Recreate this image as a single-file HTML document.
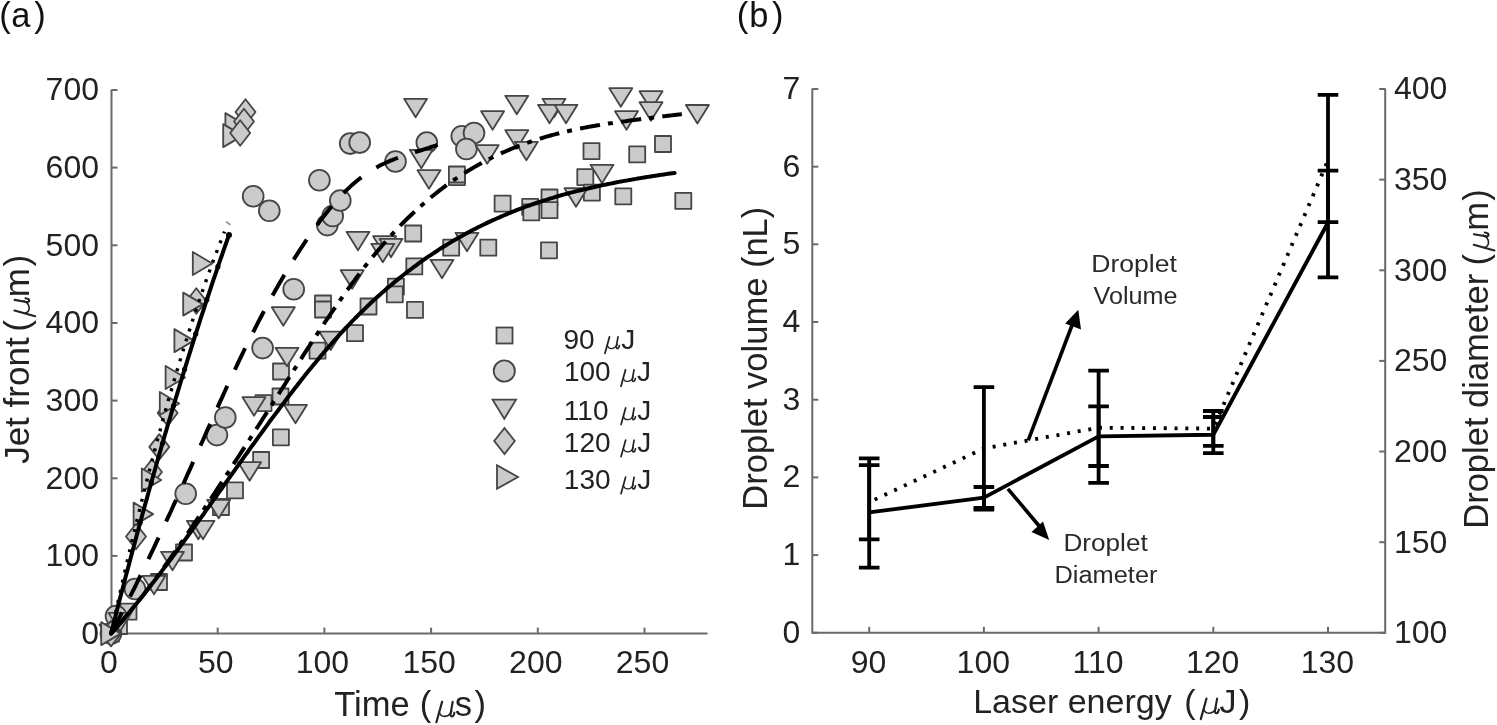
<!DOCTYPE html>
<html><head><meta charset="utf-8"><style>
html,body{margin:0;padding:0;background:#fff;width:1497px;height:725px;overflow:hidden}
svg{display:block;font-family:"Liberation Sans",sans-serif;filter:blur(0.4px)}
</style></head><body>
<svg width="1497" height="725" viewBox="0 0 1497 725">
<rect width="1497" height="725" fill="#fff"/>
<g transform="translate(0 27.2)" fill="#111"><text x="-0.74" y="0" font-size="34.50">(</text><text x="11.33" y="0" font-size="34.50">a</text><text x="34.30" y="0" font-size="34.50">)</text></g>
<g transform="translate(0 26.9)" fill="#111"><text x="736.86" y="0" font-size="34.50">(</text><text x="749.18" y="0" font-size="34.50">b</text><text x="771.90" y="0" font-size="34.50">)</text></g>
<g stroke="#6a6a6a" stroke-width="2" fill="none">
<path d="M111.5 89.5 V634.5 M110.5 633.6 H707.6"/>
<path d="M111.5 633.6 H117.5"/>
<path d="M111.5 555.9 H117.5"/>
<path d="M111.5 478.3 H117.5"/>
<path d="M111.5 400.6 H117.5"/>
<path d="M111.5 323.0 H117.5"/>
<path d="M111.5 245.3 H117.5"/>
<path d="M111.5 167.6 H117.5"/>
<path d="M111.5 90.0 H117.5"/>
<path d="M217.7 633.6 V627.6"/>
<path d="M324.4 633.6 V627.6"/>
<path d="M431.1 633.6 V627.6"/>
<path d="M537.8 633.6 V627.6"/>
<path d="M644.5 633.6 V627.6"/>
</g>
<g font-size="32" fill="#222">
<text x="99" y="644.0" text-anchor="end">0</text>
<text x="99" y="566.3" text-anchor="end">100</text>
<text x="99" y="488.7" text-anchor="end">200</text>
<text x="99" y="411.0" text-anchor="end">300</text>
<text x="99" y="333.4" text-anchor="end">400</text>
<text x="99" y="255.7" text-anchor="end">500</text>
<text x="99" y="178.0" text-anchor="end">600</text>
<text x="99" y="100.4" text-anchor="end">700</text>
<text x="109.0" y="672.5" text-anchor="middle">0</text>
<text x="215.7" y="672.5" text-anchor="middle">50</text>
<text x="322.4" y="672.5" text-anchor="middle">100</text>
<text x="429.1" y="672.5" text-anchor="middle">150</text>
<text x="535.8" y="672.5" text-anchor="middle">200</text>
<text x="642.5" y="672.5" text-anchor="middle">250</text>
</g>
<g transform="translate(0 716.3)" fill="#222"><text x="334.23" y="0" font-size="34.50">Time</text><text x="419.66" y="0" font-size="34.50">(</text><g transform="translate(434.80 0) scale(1.000)" fill="none" stroke="#222" stroke-linecap="round"><path d="M1.6 6.0 L7.3 -14.6" stroke-width="2.2"/><path d="M4.5 -4.2 C5.3 -1.2 7.6 0.2 10.0 0.1 C13.2 -0.1 15.6 -2.2 16.9 -5.2" stroke-width="1.6"/><path d="M17.9 -14.5 L15.8 -2.8 C15.5 -0.6 16.4 0.3 17.5 0.1 C18.6 -0.1 19.3 -1.4 19.6 -3.6" stroke-width="2.1"/></g><text x="454.64" y="0" font-size="34.50">s</text><text x="474.40" y="0" font-size="34.50">)</text></g>
<g transform="translate(29.1 463.3) rotate(-90)" fill="#222"><text x="-0.55" y="0" font-size="35.00">Jet front</text><text x="131.53" y="0" font-size="35.00">(</text><g transform="translate(145.50 0) scale(1.000)" fill="none" stroke="#222" stroke-linecap="round"><path d="M1.6 6.0 L7.3 -14.6" stroke-width="2.2"/><path d="M4.5 -4.2 C5.3 -1.2 7.6 0.2 10.0 0.1 C13.2 -0.1 15.6 -2.2 16.9 -5.2" stroke-width="1.6"/><path d="M17.9 -14.5 L15.8 -2.8 C15.5 -0.6 16.4 0.3 17.5 0.1 C18.6 -0.1 19.3 -1.4 19.6 -3.6" stroke-width="2.1"/></g><text x="166.18" y="0" font-size="35.00">m</text><text x="196.89" y="0" font-size="35.00">)</text></g>
<g fill="#cbcbcb" stroke="#454545" stroke-width="1.8" stroke-linejoin="round">
<rect x="103.0" y="625.6" width="16.0" height="16.0"/>
<rect x="111.0" y="618.0" width="16.0" height="16.0"/>
<rect x="120.5" y="603.7" width="16.0" height="16.0"/>
<rect x="151.0" y="574.0" width="16.0" height="16.0"/>
<rect x="176.0" y="544.5" width="16.0" height="16.0"/>
<rect x="213.0" y="499.0" width="16.0" height="16.0"/>
<rect x="227.0" y="482.3" width="16.0" height="16.0"/>
<rect x="253.1" y="452.0" width="16.0" height="16.0"/>
<rect x="272.9" y="429.3" width="16.0" height="16.0"/>
<rect x="255.5" y="395.1" width="16.0" height="16.0"/>
<rect x="272.5" y="388.5" width="16.0" height="16.0"/>
<rect x="273.0" y="363.5" width="16.0" height="16.0"/>
<rect x="309.5" y="342.6" width="16.0" height="16.0"/>
<rect x="347.0" y="325.2" width="16.0" height="16.0"/>
<rect x="315.0" y="295.5" width="16.0" height="16.0"/>
<rect x="315.0" y="301.5" width="16.0" height="16.0"/>
<rect x="360.5" y="298.5" width="16.0" height="16.0"/>
<rect x="387.9" y="278.6" width="16.0" height="16.0"/>
<rect x="386.8" y="286.3" width="16.0" height="16.0"/>
<rect x="407.0" y="301.9" width="16.0" height="16.0"/>
<rect x="406.3" y="258.4" width="16.0" height="16.0"/>
<rect x="405.2" y="225.5" width="16.0" height="16.0"/>
<rect x="443.2" y="239.7" width="16.0" height="16.0"/>
<rect x="480.3" y="239.7" width="16.0" height="16.0"/>
<rect x="541.0" y="242.3" width="16.0" height="16.0"/>
<rect x="448.9" y="169.1" width="16.0" height="16.0"/>
<rect x="448.9" y="166.5" width="16.0" height="16.0"/>
<rect x="494.6" y="195.6" width="16.0" height="16.0"/>
<rect x="522.2" y="198.9" width="16.0" height="16.0"/>
<rect x="523.3" y="204.4" width="16.0" height="16.0"/>
<rect x="541.5" y="189.5" width="16.0" height="16.0"/>
<rect x="541.5" y="202.2" width="16.0" height="16.0"/>
<rect x="577.3" y="169.1" width="16.0" height="16.0"/>
<rect x="583.9" y="184.6" width="16.0" height="16.0"/>
<rect x="615.3" y="188.3" width="16.0" height="16.0"/>
<rect x="583.5" y="143.1" width="16.0" height="16.0"/>
<rect x="629.2" y="146.4" width="16.0" height="16.0"/>
<rect x="655.0" y="136.0" width="16.0" height="16.0"/>
<rect x="675.3" y="192.9" width="16.0" height="16.0"/>
<circle cx="111.0" cy="633.6" r="10.4"/>
<circle cx="116.0" cy="616.0" r="10.4"/>
<circle cx="135.0" cy="589.0" r="10.4"/>
<circle cx="185.7" cy="493.7" r="10.4"/>
<circle cx="216.9" cy="435.1" r="10.4"/>
<circle cx="225.3" cy="417.5" r="10.4"/>
<circle cx="262.6" cy="348.1" r="10.4"/>
<circle cx="293.7" cy="289.2" r="10.4"/>
<circle cx="269.3" cy="210.8" r="10.4"/>
<circle cx="253.2" cy="196.3" r="10.4"/>
<circle cx="319.4" cy="180.3" r="10.4"/>
<circle cx="327.3" cy="225.1" r="10.4"/>
<circle cx="332.7" cy="216.0" r="10.4"/>
<circle cx="340.3" cy="200.5" r="10.4"/>
<circle cx="350.2" cy="143.6" r="10.4"/>
<circle cx="359.7" cy="142.6" r="10.4"/>
<circle cx="395.5" cy="161.5" r="10.4"/>
<circle cx="426.8" cy="142.6" r="10.4"/>
<circle cx="461.8" cy="136.3" r="10.4"/>
<circle cx="474.0" cy="133.0" r="10.4"/>
<circle cx="466.4" cy="149.0" r="10.4"/>
<polygon points="99.5,624.4 122.5,624.4 111.0,642.9"/>
<polygon points="108.5,612.8 131.5,612.8 120.0,631.2"/>
<polygon points="142.5,575.8 165.5,575.8 154.0,594.2"/>
<polygon points="161.0,551.8 184.0,551.8 172.5,570.2"/>
<polygon points="186.8,520.8 209.8,520.8 198.3,539.2"/>
<polygon points="191.5,520.8 214.5,520.8 203.0,539.2"/>
<polygon points="207.2,499.8 230.2,499.8 218.7,518.2"/>
<polygon points="238.1,462.2 261.1,462.2 249.6,480.8"/>
<polygon points="242.5,397.2 265.5,397.2 254.0,415.8"/>
<polygon points="284.0,404.8 307.0,404.8 295.5,423.2"/>
<polygon points="275.5,347.8 298.5,347.8 287.0,366.2"/>
<polygon points="271.8,307.2 294.8,307.2 283.3,325.8"/>
<polygon points="319.2,331.6 342.2,331.6 330.7,350.1"/>
<polygon points="340.7,270.2 363.7,270.2 352.2,288.8"/>
<polygon points="346.5,231.8 369.5,231.8 358.0,250.2"/>
<polygon points="373.1,236.2 396.1,236.2 384.6,254.8"/>
<polygon points="379.5,238.8 402.5,238.8 391.0,257.2"/>
<polygon points="371.3,243.8 394.3,243.8 382.8,262.2"/>
<polygon points="430.5,259.8 453.5,259.8 442.0,278.2"/>
<polygon points="455.5,232.8 478.5,232.8 467.0,251.2"/>
<polygon points="404.1,98.8 427.1,98.8 415.6,117.2"/>
<polygon points="409.8,149.8 432.8,149.8 421.3,168.2"/>
<polygon points="417.5,170.2 440.5,170.2 429.0,188.8"/>
<polygon points="475.7,145.2 498.7,145.2 487.2,163.8"/>
<polygon points="481.1,111.2 504.1,111.2 492.6,129.8"/>
<polygon points="505.3,95.8 528.3,95.8 516.8,114.2"/>
<polygon points="505.3,130.2 528.3,130.2 516.8,148.8"/>
<polygon points="514.9,141.8 537.9,141.8 526.4,160.2"/>
<polygon points="542.5,98.8 565.5,98.8 554.0,117.2"/>
<polygon points="538.0,104.8 561.0,104.8 549.5,123.2"/>
<polygon points="554.5,104.8 577.5,104.8 566.0,123.2"/>
<polygon points="564.5,188.2 587.5,188.2 576.0,206.8"/>
<polygon points="590.5,164.8 613.5,164.8 602.0,183.2"/>
<polygon points="609.3,88.2 632.3,88.2 620.8,106.8"/>
<polygon points="639.5,91.2 662.5,91.2 651.0,109.8"/>
<polygon points="639.5,102.2 662.5,102.2 651.0,120.8"/>
<polygon points="615.0,111.2 638.0,111.2 626.5,129.8"/>
<polygon points="685.9,105.0 708.9,105.0 697.4,123.5"/>
<polygon points="111.0,620.9 121.0,633.6 111.0,646.4 101.0,633.6"/>
<polygon points="136.0,523.8 146.0,536.5 136.0,549.2 126.0,536.5"/>
<polygon points="152.0,459.2 162.0,472.0 152.0,484.8 142.0,472.0"/>
<polygon points="159.3,434.1 169.3,446.9 159.3,459.6 149.3,446.9"/>
<polygon points="167.6,400.2 177.6,413.0 167.6,425.8 157.6,413.0"/>
<polygon points="196.3,288.2 206.3,301.0 196.3,313.8 186.3,301.0"/>
<polygon points="101.2,622.1 120.8,633.6 101.2,645.1"/>
<polygon points="133.6,502.6 153.1,514.1 133.6,525.6"/>
<polygon points="141.8,468.5 161.2,480.0 141.8,491.5"/>
<polygon points="159.8,391.9 179.2,403.4 159.8,414.9"/>
<polygon points="165.6,366.0 185.1,377.5 165.6,389.0"/>
<polygon points="174.4,329.1 193.9,340.6 174.4,352.1"/>
<polygon points="183.2,292.6 202.8,304.1 183.2,315.6"/>
<polygon points="192.8,252.0 212.2,263.5 192.8,275.0"/>
<polygon points="225.4,113.1 244.9,124.6 225.4,136.1"/>
<polygon points="223.2,124.1 242.8,135.6 223.2,147.1"/>
<polygon points="245.5,99.2 255.5,112.0 245.5,124.8 235.5,112.0"/>
<polygon points="244.0,108.8 254.0,121.5 244.0,134.2 234.0,121.5"/>
<polygon points="240.2,120.2 250.2,133.0 240.2,145.8 230.2,133.0"/>
</g>
<g fill="none" stroke="#000" stroke-width="4.0">
<path d="M111.0 633.6 L113.1 623.8 L115.3 614.1 L117.4 604.5 L119.5 595.0 L121.7 585.6 L123.8 576.2 L125.9 567.0 L128.1 557.8 L130.2 548.7 L132.3 539.7 L134.5 530.8 L136.6 521.9 L138.7 513.2 L140.9 504.5 L143.0 495.9 L145.1 487.4 L147.3 479.0 L149.4 470.7 L151.5 462.4 L153.7 454.3 L155.8 446.2 L157.9 438.2 L160.1 430.3 L162.2 422.5 L164.3 414.8 L166.5 407.1 L168.6 399.5 L170.8 392.1 L172.9 384.7 L175.0 377.4 L177.2 370.1 L179.3 363.0 L181.4 356.0 L183.6 349.0 L185.7 342.1 L187.8 335.3 L190.0 328.6 L192.1 322.0 L194.2 315.4 L196.4 309.0 L198.5 302.6 L200.6 296.3 L202.8 290.1 L204.9 284.0 L207.0 278.0 L209.2 272.0 L211.3 266.1 L213.4 260.4 L215.6 254.7 L217.7 249.1 L219.8 243.5 L222.0 238.1 L224.1 232.7 L224.5 231.7" stroke-width="3.4" stroke-dasharray="3 7.4" stroke-dashoffset="-0.2"/>
<path d="M111.0 633.6 L113.1 625.2 L115.3 616.9 L117.4 608.6 L119.5 600.3 L121.7 592.1 L123.8 583.9 L125.9 575.8 L128.1 567.7 L130.2 559.7 L132.3 551.7 L134.5 543.7 L136.6 535.8 L138.7 527.9 L140.9 520.1 L143.0 512.3 L145.1 504.6 L147.3 496.9 L149.4 489.2 L151.5 481.6 L153.7 474.1 L155.8 466.5 L157.9 459.1 L160.1 451.6 L162.2 444.2 L164.3 436.9 L166.5 429.6 L168.6 422.3 L170.8 415.1 L172.9 407.9 L175.0 400.8 L177.2 393.7 L179.3 386.7 L181.4 379.7 L183.6 372.7 L185.7 365.8 L187.8 359.0 L190.0 352.1 L192.1 345.4 L194.2 338.6 L196.4 331.9 L198.5 325.3 L200.6 318.7 L202.8 312.1 L204.9 305.6 L207.0 299.1 L209.2 292.7 L211.3 286.3 L213.4 279.9 L215.6 273.6 L217.7 267.4 L219.8 261.2 L222.0 255.0 L224.1 248.8 L226.2 242.8 L228.4 236.7 L229.0 234.9" stroke-linecap="round"/>
<circle cx="229.0" cy="234.9" r="3.0" fill="#000" stroke="none"/>
<circle cx="217.9" cy="266.7" r="2.6" fill="#000" stroke="none"/>
<circle cx="206.8" cy="299.7" r="2.6" fill="#000" stroke="none"/>
<circle cx="195.7" cy="333.9" r="2.6" fill="#000" stroke="none"/>
<circle cx="184.6" cy="369.3" r="2.6" fill="#000" stroke="none"/>
<circle cx="173.5" cy="405.8" r="2.6" fill="#000" stroke="none"/>
<circle cx="162.4" cy="443.5" r="2.6" fill="#000" stroke="none"/>
<circle cx="151.3" cy="482.4" r="2.6" fill="#000" stroke="none"/>
<circle cx="140.2" cy="522.4" r="2.6" fill="#000" stroke="none"/>
<path d="M111.0 633.6 L113.1 629.6 L115.3 625.5 L117.4 621.5 L119.5 617.4 L121.7 613.2 L123.8 609.1 L125.9 604.9 L128.1 600.7 L130.2 596.4 L132.3 592.2 L134.5 587.9 L136.6 583.5 L138.7 579.2 L140.9 574.8 L143.0 570.4 L145.1 566.0 L147.3 561.6 L149.4 557.1 L151.5 552.6 L153.7 548.1 L155.8 543.6 L157.9 539.1 L160.1 534.5 L162.2 529.9 L164.3 525.3 L166.5 520.7 L168.6 516.1 L170.8 511.5 L172.9 506.8 L175.0 502.1 L177.2 497.5 L179.3 492.8 L181.4 488.1 L183.6 483.3 L185.7 478.6 L187.8 473.9 L190.0 469.1 L192.1 464.4 L194.2 459.6 L196.4 454.8 L198.5 450.0 L200.6 445.3 L202.8 440.5 L204.9 435.7 L207.0 430.9 L209.2 426.1 L211.3 421.4 L213.4 416.6 L215.6 411.9 L217.7 407.1 L219.8 402.4 L222.0 397.7 L224.1 393.0 L226.2 388.3 L228.4 383.7 L230.5 379.1 L232.6 374.5 L234.8 369.9 L236.9 365.4 L239.0 360.9 L241.2 356.4 L243.3 352.0 L245.4 347.6 L247.6 343.3 L249.7 339.0 L251.8 334.7 L254.0 330.5 L256.1 326.3 L258.2 322.1 L260.4 318.0 L262.5 314.0 L264.6 310.0 L266.8 306.0 L268.9 302.1 L271.0 298.2 L273.2 294.3 L275.3 290.5 L277.5 286.8 L279.6 283.1 L281.7 279.4 L283.9 275.8 L286.0 272.2 L288.1 268.6 L290.3 265.1 L292.4 261.7 L294.5 258.3 L296.7 254.9 L298.8 251.6 L300.9 248.3 L303.1 245.1 L305.2 241.9 L307.3 238.8 L309.5 235.7 L311.6 232.6 L313.7 229.6 L315.9 226.7 L318.0 223.8 L320.1 220.9 L322.3 218.1 L324.4 215.4 L326.5 212.7 L328.7 210.0 L330.8 207.5 L332.9 204.9 L335.1 202.5 L337.2 200.1 L339.3 197.7 L341.5 195.4 L343.6 193.2 L345.7 191.0 L347.9 188.9 L350.0 186.9 L352.1 184.9 L354.3 183.0 L356.4 181.2 L358.5 179.5 L360.7 177.8 L362.8 176.2 L364.9 174.6 L367.1 173.1 L369.2 171.7 L371.3 170.4 L373.5 169.1 L375.6 167.9 L377.8 166.7 L379.9 165.6 L382.0 164.5 L384.2 163.5 L386.3 162.5 L388.4 161.6 L390.6 160.7 L392.7 159.8 L394.8 159.0 L397.0 158.2 L399.1 157.4 L401.2 156.6 L403.4 155.9 L405.5 155.2 L407.6 154.5 L409.8 153.8 L411.9 153.1 L414.0 152.5 L416.2 151.8 L418.3 151.1 L420.4 150.5 L422.6 149.8 L424.7 149.1 L426.8 148.5 L429.0 147.8 L431.1 147.0 L433.2 146.3 L435.4 145.6 L437.5 144.8 L439.2 144.1" stroke-dasharray="23.8 17.85" stroke-dashoffset="0"/>
<path d="M111.0 633.6 L113.1 631.3 L115.3 628.9 L117.4 626.5 L119.5 624.1 L121.7 621.6 L123.8 619.1 L125.9 616.6 L128.1 614.0 L130.2 611.5 L132.3 608.8 L134.5 606.2 L136.6 603.5 L138.7 600.9 L140.9 598.1 L143.0 595.4 L145.1 592.6 L147.3 589.8 L149.4 587.0 L151.5 584.2 L153.7 581.3 L155.8 578.4 L157.9 575.5 L160.1 572.6 L162.2 569.7 L164.3 566.7 L166.5 563.7 L168.6 560.8 L170.8 557.7 L172.9 554.7 L175.0 551.7 L177.2 548.6 L179.3 545.5 L181.4 542.5 L183.6 539.4 L185.7 536.2 L187.8 533.1 L190.0 530.0 L192.1 526.8 L194.2 523.7 L196.4 520.5 L198.5 517.3 L200.6 514.1 L202.8 510.9 L204.9 507.7 L207.0 504.5 L209.2 501.3 L211.3 498.1 L213.4 494.8 L215.6 491.6 L217.7 488.3 L219.8 485.1 L222.0 481.8 L224.1 478.6 L226.2 475.3 L228.4 472.1 L230.5 468.8 L232.6 465.5 L234.8 462.2 L236.9 459.0 L239.0 455.7 L241.2 452.4 L243.3 449.1 L245.4 445.8 L247.6 442.5 L249.7 439.2 L251.8 435.9 L254.0 432.6 L256.1 429.3 L258.2 426.0 L260.4 422.7 L262.5 419.3 L264.6 416.0 L266.8 412.7 L268.9 409.3 L271.0 406.0 L273.2 402.6 L275.3 399.3 L277.5 395.9 L279.6 392.5 L281.7 389.2 L283.9 385.8 L286.0 382.5 L288.1 379.1 L290.3 375.8 L292.4 372.4 L294.5 369.1 L296.7 365.7 L298.8 362.4 L300.9 359.1 L303.1 355.7 L305.2 352.4 L307.3 349.1 L309.5 345.8 L311.6 342.6 L313.7 339.3 L315.9 336.0 L318.0 332.8 L320.1 329.6 L322.3 326.4 L324.4 323.2 L326.5 320.0 L328.7 316.8 L330.8 313.7 L332.9 310.6 L335.1 307.5 L337.2 304.4 L339.3 301.3 L341.5 298.3 L343.6 295.3 L345.7 292.3 L347.9 289.3 L350.0 286.4 L352.1 283.5 L354.3 280.6 L356.4 277.7 L358.5 274.9 L360.7 272.1 L362.8 269.3 L364.9 266.6 L367.1 263.8 L369.2 261.1 L371.3 258.5 L373.5 255.9 L375.6 253.3 L377.8 250.7 L379.9 248.2 L382.0 245.7 L384.2 243.2 L386.3 240.8 L388.4 238.4 L390.6 236.0 L392.7 233.7 L394.8 231.4 L397.0 229.1 L399.1 226.9 L401.2 224.7 L403.4 222.5 L405.5 220.4 L407.6 218.3 L409.8 216.2 L411.9 214.2 L414.0 212.2 L416.2 210.2 L418.3 208.3 L420.4 206.3 L422.6 204.5 L424.7 202.6 L426.8 200.8 L429.0 199.0 L431.1 197.2 L433.2 195.5 L435.4 193.8 L437.5 192.1 L439.6 190.4 L441.8 188.8 L443.9 187.2 L446.0 185.6 L448.2 184.0 L450.3 182.5 L452.4 181.0 L454.6 179.5 L456.7 178.1 L458.8 176.7 L461.0 175.3 L463.1 173.9 L465.2 172.6 L467.4 171.2 L469.5 169.9 L471.6 168.7 L473.8 167.4 L475.9 166.2 L478.0 165.0 L480.2 163.8 L482.3 162.6 L484.4 161.5 L486.6 160.4 L488.7 159.3 L490.9 158.2 L493.0 157.1 L495.1 156.1 L497.3 155.1 L499.4 154.1 L501.5 153.1 L503.7 152.2 L505.8 151.2 L507.9 150.3 L510.1 149.4 L512.2 148.5 L514.3 147.7 L516.5 146.8 L518.6 146.0 L520.7 145.2 L522.9 144.4 L525.0 143.6 L527.1 142.9 L529.3 142.1 L531.4 141.4 L533.5 140.7 L535.7 140.0 L537.8 139.3 L539.9 138.6 L542.1 138.0 L544.2 137.3 L546.3 136.7 L548.5 136.1 L550.6 135.5 L552.7 134.9 L554.9 134.4 L557.0 133.8 L559.1 133.3 L561.3 132.7 L563.4 132.2 L565.5 131.7 L567.7 131.2 L569.8 130.7 L571.9 130.3 L574.1 129.8 L576.2 129.3 L578.3 128.9 L580.5 128.5 L582.6 128.0 L584.7 127.6 L586.9 127.2 L589.0 126.8 L591.1 126.4 L593.3 126.1 L595.4 125.7 L597.6 125.3 L599.7 125.0 L601.8 124.6 L604.0 124.3 L606.1 123.9 L608.2 123.6 L610.4 123.3 L612.5 123.0 L614.6 122.6 L616.8 122.3 L618.9 122.0 L621.0 121.7 L623.2 121.4 L625.3 121.2 L627.4 120.9 L629.6 120.6 L631.7 120.3 L633.8 120.0 L636.0 119.8 L638.1 119.5 L640.2 119.2 L642.4 118.9 L644.5 118.7 L646.6 118.4 L648.8 118.2 L650.9 117.9 L653.0 117.6 L655.2 117.4 L657.3 117.1 L659.4 116.8 L661.6 116.6 L663.7 116.3 L665.8 116.1 L668.0 115.8 L670.1 115.5 L672.2 115.3 L674.4 115.0 L676.5 114.7 L678.6 114.4 L680.8 114.2 L681.8 114.0" stroke-dasharray="20.3 8 5 8.3" stroke-dashoffset="-1.4"/>
<path d="M111.0 633.6 L113.1 631.2 L115.3 628.8 L117.4 626.4 L119.5 623.9 L121.7 621.4 L123.8 618.9 L125.9 616.4 L128.1 613.8 L130.2 611.3 L132.3 608.7 L134.5 606.1 L136.6 603.4 L138.7 600.8 L140.9 598.1 L143.0 595.5 L145.1 592.8 L147.3 590.1 L149.4 587.3 L151.5 584.6 L153.7 581.8 L155.8 579.0 L157.9 576.3 L160.1 573.5 L162.2 570.6 L164.3 567.8 L166.5 565.0 L168.6 562.1 L170.8 559.2 L172.9 556.4 L175.0 553.5 L177.2 550.6 L179.3 547.7 L181.4 544.8 L183.6 541.8 L185.7 538.9 L187.8 536.0 L190.0 533.0 L192.1 530.0 L194.2 527.1 L196.4 524.1 L198.5 521.1 L200.6 518.2 L202.8 515.2 L204.9 512.2 L207.0 509.2 L209.2 506.2 L211.3 503.2 L213.4 500.2 L215.6 497.2 L217.7 494.2 L219.8 491.2 L222.0 488.2 L224.1 485.2 L226.2 482.1 L228.4 479.1 L230.5 476.1 L232.6 473.1 L234.8 470.1 L236.9 467.1 L239.0 464.1 L241.2 461.1 L243.3 458.1 L245.4 455.2 L247.6 452.2 L249.7 449.2 L251.8 446.2 L254.0 443.3 L256.1 440.3 L258.2 437.4 L260.4 434.4 L262.5 431.5 L264.6 428.6 L266.8 425.6 L268.9 422.7 L271.0 419.8 L273.2 416.9 L275.3 414.1 L277.5 411.2 L279.6 408.3 L281.7 405.5 L283.9 402.7 L286.0 399.8 L288.1 397.0 L290.3 394.2 L292.4 391.5 L294.5 388.7 L296.7 386.0 L298.8 383.2 L300.9 380.5 L303.1 377.8 L305.2 375.1 L307.3 372.5 L309.5 369.8 L311.6 367.2 L313.7 364.6 L315.9 362.0 L318.0 359.4 L320.1 356.9 L322.3 354.4 L324.4 351.8 L326.5 349.4 L328.7 346.9 L330.8 344.5 L332.9 342.0 L335.1 339.6 L337.2 337.3 L339.3 334.9 L341.5 332.6 L343.6 330.3 L345.7 328.0 L347.9 325.8 L350.0 323.5 L352.1 321.3 L354.3 319.2 L356.4 317.0 L358.5 314.9 L360.7 312.7 L362.8 310.7 L364.9 308.6 L367.1 306.5 L369.2 304.5 L371.3 302.5 L373.5 300.5 L375.6 298.6 L377.8 296.6 L379.9 294.7 L382.0 292.8 L384.2 291.0 L386.3 289.1 L388.4 287.3 L390.6 285.5 L392.7 283.7 L394.8 281.9 L397.0 280.1 L399.1 278.4 L401.2 276.7 L403.4 275.0 L405.5 273.3 L407.6 271.7 L409.8 270.1 L411.9 268.5 L414.0 266.9 L416.2 265.3 L418.3 263.7 L420.4 262.2 L422.6 260.7 L424.7 259.2 L426.8 257.7 L429.0 256.2 L431.1 254.8 L433.2 253.4 L435.4 252.0 L437.5 250.6 L439.6 249.2 L441.8 247.8 L443.9 246.5 L446.0 245.2 L448.2 243.9 L450.3 242.6 L452.4 241.3 L454.6 240.1 L456.7 238.8 L458.8 237.6 L461.0 236.4 L463.1 235.2 L465.2 234.0 L467.4 232.9 L469.5 231.7 L471.6 230.6 L473.8 229.5 L475.9 228.4 L478.0 227.3 L480.2 226.3 L482.3 225.2 L484.4 224.2 L486.6 223.1 L488.7 222.1 L490.9 221.1 L493.0 220.2 L495.1 219.2 L497.3 218.2 L499.4 217.3 L501.5 216.4 L503.7 215.5 L505.8 214.6 L507.9 213.7 L510.1 212.8 L512.2 211.9 L514.3 211.1 L516.5 210.2 L518.6 209.4 L520.7 208.6 L522.9 207.8 L525.0 207.0 L527.1 206.2 L529.3 205.5 L531.4 204.7 L533.5 204.0 L535.7 203.2 L537.8 202.5 L539.9 201.8 L542.1 201.1 L544.2 200.4 L546.3 199.8 L548.5 199.1 L550.6 198.4 L552.7 197.8 L554.9 197.1 L557.0 196.5 L559.1 195.9 L561.3 195.3 L563.4 194.7 L565.5 194.1 L567.7 193.5 L569.8 192.9 L571.9 192.4 L574.1 191.8 L576.2 191.3 L578.3 190.7 L580.5 190.2 L582.6 189.7 L584.7 189.2 L586.9 188.7 L589.0 188.2 L591.1 187.7 L593.3 187.2 L595.4 186.7 L597.6 186.3 L599.7 185.8 L601.8 185.3 L604.0 184.9 L606.1 184.5 L608.2 184.0 L610.4 183.6 L612.5 183.2 L614.6 182.7 L616.8 182.3 L618.9 181.9 L621.0 181.5 L623.2 181.1 L625.3 180.7 L627.4 180.4 L629.6 180.0 L631.7 179.6 L633.8 179.2 L636.0 178.9 L638.1 178.5 L640.2 178.1 L642.4 177.8 L644.5 177.4 L646.6 177.1 L648.8 176.8 L650.9 176.4 L653.0 176.1 L655.2 175.8 L657.3 175.4 L659.4 175.1 L661.6 174.8 L663.7 174.5 L665.8 174.1 L668.0 173.8 L670.1 173.5 L672.2 173.2 L674.4 172.9 L674.6 172.9" stroke-linecap="round"/>
</g>
<path d="M226.6 222.1 L229.9 224.5" stroke="#9a9a9a" stroke-width="1.8" stroke-linecap="round" fill="none"/>
<g fill="#cbcbcb" stroke="#454545" stroke-width="1.8">
<rect x="496.5" y="327.5" width="16.0" height="16.0"/>
<circle cx="504.3" cy="371.0" r="10.6"/>
<polygon points="492.6,399.7 516.0,399.7 504.3,418.7"/>
<polygon points="504.5,428.0 514.8,441.0 504.5,454.0 494.2,441.0"/>
<polygon points="497.0,465.2 518.0,477.0 497.0,488.8"/>
</g>
<g transform="translate(0 348.5)" fill="#222"><text x="563.39" y="0" font-size="28.00">90</text><g transform="translate(603.70 0) scale(0.799)" fill="none" stroke="#222" stroke-linecap="round"><path d="M1.6 6.0 L7.3 -14.6" stroke-width="2.2"/><path d="M4.5 -4.2 C5.3 -1.2 7.6 0.2 10.0 0.1 C13.2 -0.1 15.6 -2.2 16.9 -5.2" stroke-width="1.6"/><path d="M17.9 -14.5 L15.8 -2.8 C15.5 -0.6 16.4 0.3 17.5 0.1 C18.6 -0.1 19.3 -1.4 19.6 -3.6" stroke-width="2.1"/></g><text x="621.16" y="0" font-size="28.00">J</text></g>
<g transform="translate(0 381.4)" fill="#222"><text x="563.97" y="0" font-size="28.00">100</text><g transform="translate(619.70 0) scale(0.799)" fill="none" stroke="#222" stroke-linecap="round"><path d="M1.6 6.0 L7.3 -14.6" stroke-width="2.2"/><path d="M4.5 -4.2 C5.3 -1.2 7.6 0.2 10.0 0.1 C13.2 -0.1 15.6 -2.2 16.9 -5.2" stroke-width="1.6"/><path d="M17.9 -14.5 L15.8 -2.8 C15.5 -0.6 16.4 0.3 17.5 0.1 C18.6 -0.1 19.3 -1.4 19.6 -3.6" stroke-width="2.1"/></g><text x="637.06" y="0" font-size="28.00">J</text></g>
<g transform="translate(0 419.6)" fill="#222"><text x="563.87" y="0" font-size="28.00">110</text><g transform="translate(619.80 0) scale(0.799)" fill="none" stroke="#222" stroke-linecap="round"><path d="M1.6 6.0 L7.3 -14.6" stroke-width="2.2"/><path d="M4.5 -4.2 C5.3 -1.2 7.6 0.2 10.0 0.1 C13.2 -0.1 15.6 -2.2 16.9 -5.2" stroke-width="1.6"/><path d="M17.9 -14.5 L15.8 -2.8 C15.5 -0.6 16.4 0.3 17.5 0.1 C18.6 -0.1 19.3 -1.4 19.6 -3.6" stroke-width="2.1"/></g><text x="637.36" y="0" font-size="28.00">J</text></g>
<g transform="translate(0 451.8)" fill="#222"><text x="563.87" y="0" font-size="28.00">120</text><g transform="translate(619.80 0) scale(0.799)" fill="none" stroke="#222" stroke-linecap="round"><path d="M1.6 6.0 L7.3 -14.6" stroke-width="2.2"/><path d="M4.5 -4.2 C5.3 -1.2 7.6 0.2 10.0 0.1 C13.2 -0.1 15.6 -2.2 16.9 -5.2" stroke-width="1.6"/><path d="M17.9 -14.5 L15.8 -2.8 C15.5 -0.6 16.4 0.3 17.5 0.1 C18.6 -0.1 19.3 -1.4 19.6 -3.6" stroke-width="2.1"/></g><text x="637.36" y="0" font-size="28.00">J</text></g>
<g transform="translate(0 488.8)" fill="#222"><text x="563.87" y="0" font-size="28.00">130</text><g transform="translate(619.80 0) scale(0.799)" fill="none" stroke="#222" stroke-linecap="round"><path d="M1.6 6.0 L7.3 -14.6" stroke-width="2.2"/><path d="M4.5 -4.2 C5.3 -1.2 7.6 0.2 10.0 0.1 C13.2 -0.1 15.6 -2.2 16.9 -5.2" stroke-width="1.6"/><path d="M17.9 -14.5 L15.8 -2.8 C15.5 -0.6 16.4 0.3 17.5 0.1 C18.6 -0.1 19.3 -1.4 19.6 -3.6" stroke-width="2.1"/></g><text x="637.36" y="0" font-size="28.00">J</text></g>
<g stroke="#6a6a6a" stroke-width="2" fill="none">
<path d="M812.3 88.5 V633.8 M811.3 632.8 H1386.2 M1385.2 633.8 V88.5"/>
<path d="M812.3 632.8 H818.3"/>
<path d="M812.3 555.1 H818.3"/>
<path d="M812.3 477.4 H818.3"/>
<path d="M812.3 399.7 H818.3"/>
<path d="M812.3 322.0 H818.3"/>
<path d="M812.3 244.3 H818.3"/>
<path d="M812.3 166.7 H818.3"/>
<path d="M812.3 89.0 H818.3"/>
<path d="M869.2 632.8 V626.8"/>
<path d="M983.9 632.8 V626.8"/>
<path d="M1098.6 632.8 V626.8"/>
<path d="M1213.3 632.8 V626.8"/>
<path d="M1328.0 632.8 V626.8"/>
<path d="M1385.2 632.8 H1379.2"/>
<path d="M1385.2 542.2 H1379.2"/>
<path d="M1385.2 451.5 H1379.2"/>
<path d="M1385.2 360.9 H1379.2"/>
<path d="M1385.2 270.3 H1379.2"/>
<path d="M1385.2 179.6 H1379.2"/>
<path d="M1385.2 89.0 H1379.2"/>
</g>
<g font-size="32" fill="#222">
<text x="800.3" y="642.8" text-anchor="end">0</text>
<text x="800.3" y="565.1" text-anchor="end">1</text>
<text x="800.3" y="487.4" text-anchor="end">2</text>
<text x="800.3" y="409.7" text-anchor="end">3</text>
<text x="800.3" y="332.0" text-anchor="end">4</text>
<text x="800.3" y="254.3" text-anchor="end">5</text>
<text x="800.3" y="176.7" text-anchor="end">6</text>
<text x="800.3" y="99.0" text-anchor="end">7</text>
<text x="868.6" y="672.8" text-anchor="middle">90</text>
<text x="983.3" y="672.8" text-anchor="middle">100</text>
<text x="1098.0" y="672.8" text-anchor="middle">110</text>
<text x="1212.7" y="672.8" text-anchor="middle">120</text>
<text x="1327.4" y="672.8" text-anchor="middle">130</text>
<text x="1394" y="643.2">100</text>
<text x="1394" y="552.6">150</text>
<text x="1394" y="461.9">200</text>
<text x="1394" y="371.3">250</text>
<text x="1394" y="280.7">300</text>
<text x="1394" y="190.0">350</text>
<text x="1394" y="99.4">400</text>
</g>
<g transform="translate(0 713.1)" fill="#222"><text x="973.21" y="0" font-size="34.00">Laser energy</text><text x="1184.29" y="0" font-size="34.00">(</text><g transform="translate(1199.20 0) scale(1.000)" fill="none" stroke="#222" stroke-linecap="round"><path d="M1.6 6.0 L7.3 -14.6" stroke-width="2.2"/><path d="M4.5 -4.2 C5.3 -1.2 7.6 0.2 10.0 0.1 C13.2 -0.1 15.6 -2.2 16.9 -5.2" stroke-width="1.6"/><path d="M17.9 -14.5 L15.8 -2.8 C15.5 -0.6 16.4 0.3 17.5 0.1 C18.6 -0.1 19.3 -1.4 19.6 -3.6" stroke-width="2.1"/></g><text x="1219.47" y="0" font-size="34.00">J</text><text x="1239.00" y="0" font-size="34.00">)</text></g>
<text transform="translate(767.3 509.7) rotate(-90)" font-size="34.5" fill="#222">Droplet volume (nL)</text>
<g transform="translate(1488.4 525.9) rotate(-90)" fill="#222"><text x="-2.83" y="0" font-size="34.50">Droplet diameter</text><text x="260.46" y="0" font-size="34.50">(</text><g transform="translate(273.80 0) scale(1.000)" fill="none" stroke="#222" stroke-linecap="round"><path d="M1.6 6.0 L7.3 -14.6" stroke-width="2.2"/><path d="M4.5 -4.2 C5.3 -1.2 7.6 0.2 10.0 0.1 C13.2 -0.1 15.6 -2.2 16.9 -5.2" stroke-width="1.6"/><path d="M17.9 -14.5 L15.8 -2.8 C15.5 -0.6 16.4 0.3 17.5 0.1 C18.6 -0.1 19.3 -1.4 19.6 -3.6" stroke-width="2.1"/></g><text x="295.11" y="0" font-size="34.50">m</text><text x="325.20" y="0" font-size="34.50">)</text></g>
<g fill="none" stroke="#000">
<polyline points="869.2,512.4 983.9,497.6 1098.6,436.4 1213.3,434.7 1328.0,222.5" stroke-width="3.9" stroke-linejoin="round"/>
<polyline points="869.2,502.2 983.9,448.4 1098.6,427.7 1213.3,428.6 1328.0,160.5" stroke-width="3.8" stroke-dasharray="3 7.8" stroke-dashoffset="4.8"/>
<path d="M869.2 458.3 V567.7 M858.9 458.3 H879.5 M858.9 567.7 H879.5" stroke-width="3.8"/>
<path d="M869.2 465.1 V539.4 M858.9 465.1 H879.5 M858.9 539.4 H879.5" stroke-width="3.8"/>
<path d="M983.9 387.2 V509.5 M973.6 387.2 H994.2 M973.6 509.5 H994.2" stroke-width="3.8"/>
<path d="M983.9 487.0 V508.0 M973.6 487.0 H994.2 M973.6 508.0 H994.2" stroke-width="3.8"/>
<path d="M1098.6 370.6 V482.8 M1088.3 370.6 H1108.9 M1088.3 482.8 H1108.9" stroke-width="3.8"/>
<path d="M1098.6 406.4 V466.0 M1088.3 406.4 H1108.9 M1088.3 466.0 H1108.9" stroke-width="3.8"/>
<path d="M1213.3 411.0 V453.2 M1203.0 411.0 H1223.6 M1203.0 453.2 H1223.6" stroke-width="3.8"/>
<path d="M1213.3 417.0 V445.8 M1203.0 417.0 H1223.6 M1203.0 445.8 H1223.6" stroke-width="3.8"/>
<path d="M1328.0 94.9 V222.2 M1317.7 94.9 H1338.3 M1317.7 222.2 H1338.3" stroke-width="3.8"/>
<path d="M1328.0 170.7 V277.4 M1317.7 170.7 H1338.3 M1317.7 277.4 H1338.3" stroke-width="3.8"/>
<path d="M1028.2 440.3 L1072.5 324" stroke-width="3.6"/>
<path d="M1007.9 488.8 L1040 527" stroke-width="3.6"/>
</g>
<polygon points="1078.3,309.8 1065.2,323.5 1081,329.5" fill="#000"/>
<polygon points="1049.2,539.9 1031.5,532 1043,521.5" fill="#000"/>
<g font-size="23" fill="#2a2a2a">
<text x="1091.3" y="271.9" textLength="85.6" lengthAdjust="spacingAndGlyphs">Droplet</text>
<text x="1093.5" y="304.3" textLength="84" lengthAdjust="spacingAndGlyphs">Volume</text>
<text x="1063.5" y="550.7" textLength="84.2" lengthAdjust="spacingAndGlyphs">Droplet</text>
<text x="1054.5" y="583.3" textLength="103" lengthAdjust="spacingAndGlyphs">Diameter</text>
</g>
</svg>
</body></html>
